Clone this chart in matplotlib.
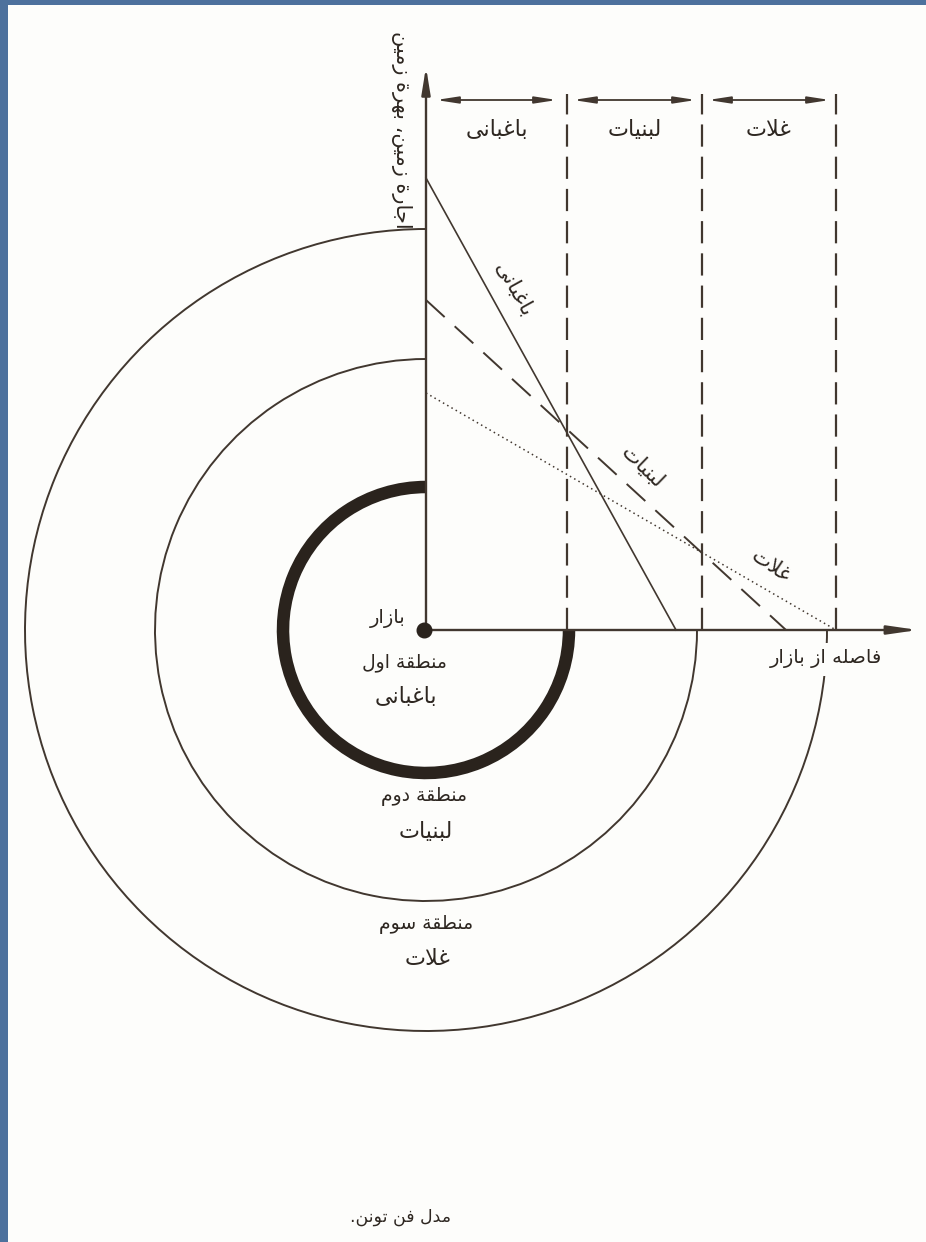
import matplotlib
matplotlib.use('Agg')
import matplotlib.pyplot as plt
from matplotlib.patches import Arc, Rectangle
from matplotlib import font_manager as fm
from matplotlib.ft2font import FT2Font

# ---------------- data ----------------
crops = ['باغبانی', 'لبنیات', 'غلات']          # horticulture, dairy, grain
rent_at_market = [452, 330, 237]                 # land rent at the market (y intercept)
zero_rent_distance = [250, 360, 410]             # distance where rent falls to zero
zone_bounds = [141, 276, 410]                    # outer distance of each zone
ring_radii = [143, 271, 401]                     # rings of the map below
zone_names = ['منطقهٔ اول', 'منطقهٔ دوم', 'منطقهٔ سوم']
market_label = 'بازار'
x_label = 'فاصله از بازار'
y_label = 'اجارهٔ زمین، بهرهٔ زمین'
title = 'مدل فن تونن.'

# ---------------- Persian shaping (matplotlib has no complex text layout) ----------------
FONT = 'DejaVu Sans'
_ft = FT2Font(fm.findfont(FONT))
def has(cp):
    return _ft.get_char_index(cp) != 0

FORMS = {
    'ا': (0xFE8D, 0xFE8E, None, None),
    'ب': (0xFE8F, 0xFE90, 0xFE91, 0xFE92),
    'ت': (0xFE95, 0xFE96, 0xFE97, 0xFE98),
    'ج': (0xFE9D, 0xFE9E, 0xFE9F, 0xFEA0),
    'د': (0xFEA9, 0xFEAA, None, None),
    'ر': (0xFEAD, 0xFEAE, None, None),
    'ز': (0xFEAF, 0xFEB0, None, None),
    'س': (0xFEB1, 0xFEB2, 0xFEB3, 0xFEB4),
    'ص': (0xFEB9, 0xFEBA, 0xFEBB, 0xFEBC),
    'ط': (0xFEC1, 0xFEC2, 0xFEC3, 0xFEC4),
    'غ': (0xFECD, 0xFECE, 0xFECF, 0xFED0),
    'ف': (0xFED1, 0xFED2, 0xFED3, 0xFED4),
    'ق': (0xFED5, 0xFED6, 0xFED7, 0xFED8),
    'ل': (0xFEDD, 0xFEDE, 0xFEDF, 0xFEE0),
    'م': (0xFEE1, 0xFEE2, 0xFEE3, 0xFEE4),
    'ن': (0xFEE5, 0xFEE6, 0xFEE7, 0xFEE8),
    'ه': (0xFEE9, 0xFEEA, 0xFEEB, 0xFEEC),
    'و': (0xFEED, 0xFEEE, None, None),
    'ی': (0xFBFC, 0xFBFD, 0xFBFE, 0xFBFF),
    'ۀ': (0xFBA4, 0xFBA5, None, None),
    'ة': (0xFE93, 0xFE94, None, None),
}
if not all(has(c) for c in FORMS['ی']):
    FORMS['ی'] = (0xFEEF, 0xFEF0, 0xFEF3, 0xFEF4)
HEH_HAMZA = 'ۀ' if all(has(c) for c in FORMS['ۀ']) else 'ة'

def shape(text):
    text = text.replace('ه\u0654', HEH_HAMZA)
    ch = list(text)
    n = len(ch)
    dual = lambda c: c in FORMS and FORMS[c][2] is not None
    out = []
    i = 0
    while i < n:
        c = ch[i]
        if c not in FORMS:
            out.append(c)
            i += 1
            continue
        jp = i > 0 and dual(ch[i - 1])
        if c == 'ل' and i + 1 < n and ch[i + 1] == 'ا':
            out.append(chr(0xFEFC if jp else 0xFEFB))
            i += 2
            continue
        jn = dual(c) and i + 1 < n and ch[i + 1] in FORMS
        iso, fin, ini, med = FORMS[c]
        cp = med if (jp and jn) else fin if jp else ini if jn else iso
        if not has(cp):
            out.append(c)
        else:
            out.append(chr(cp))
        i += 1
    return ''.join(reversed(out))

# ---------------- figure ----------------
W, H = 926, 1242
PAPER = '#fdfdfb'
fig = plt.figure(figsize=(W / 100, H / 100), dpi=100)
fig.patch.set_facecolor('#4d719d')
fig.patches.append(Rectangle((8 / W, 0), 1 - 8 / W, 1 - 5 / H, transform=fig.transFigure,
                             facecolor=PAPER, edgecolor='none', zorder=-10))

ax = fig.add_axes([0, 0, 1, 1])
ax.set_zorder(5)
ax.set_xlim(-426, W - 426)
ax.set_ylim(-(H - 630), 630)
ax.axis('off')
ax.patch.set_alpha(0)

INK = '#41372f'
TXT = '#2e2721'
plt.rcParams['font.family'] = [FONT]

def arrow(x0, y0, x1, y1, style, hl, hw, lw=1.3):
    ax.annotate('', xy=(x1, y1), xytext=(x0, y0),
                arrowprops=dict(arrowstyle=f'{style},head_length={hl},head_width={hw}',
                                color=INK, lw=lw, shrinkA=0, shrinkB=0),
                annotation_clip=False)

# axes of the rent diagram
arrow(0, 0, 0, 563, '-|>', 1.6, 0.26, lw=1.7)
arrow(0, 0, 492, 0, '-|>', 1.8, 0.26, lw=1.7)
ax.plot([-2], [0], 'o', color='#2a231d', markersize=10.5, zorder=5)

# zone boundaries (vertical dashed) and double arrows with zone names
prev = 0
for k, (b, crop) in enumerate(zip(zone_bounds, crops)):
    ln, = ax.plot([b, b], [0, 536], color=INK, lw=1.6)
    ln.set_dashes((10, 4.5))
    g0 = 10 if k == 0 else 6
    arrow(prev + g0, 530, b - (10 if k == 0 else 6), 530, '<|-|>', 1.3, 0.2, lw=1.3)
    ax.text((prev + b) / 2, 500, shape(crop), ha='center', va='center', fontsize=16, color=TXT)
    prev = b

# bid-rent lines
styles = [dict(ls='-', lw=1.2), dict(lw=1.4, dashes=(13, 7)), dict(lw=1.1, ls=(0, (1, 2.2)))]
for r, d, st in zip(rent_at_market, zero_rent_distance, styles):
    ax.plot([0, d], [r, 0], color=INK, **st)

# labels along the lines
line_lab = [(88, 340, -61), (216, 163, -44), (345, 64, -34)]
for crop, (lx, ly, rot) in zip(crops, line_lab):
    ax.text(lx, ly, shape(crop), ha='center', va='center', rotation=rot,
            rotation_mode='anchor', fontsize=15, color=TXT)

# concentric rings (map of zones)
for k, rr in enumerate(ring_radii):
    ax.add_patch(Arc((0, 0), 2 * rr, 2 * rr, theta1=90, theta2=360,
                     color='#2a231d' if k == 0 else INK, lw=9 if k == 0 else 1.4))

# zone labels
zone_pos = [(-22, -32), (-2, -167), (0, -294)]
for name, crop, (zx, zy) in zip(zone_names, crops, zone_pos):
    ax.text(zx, zy, shape(name), ha='center', va='center', fontsize=13.5, color=TXT)
    ax.text(zx + 2, zy - 35, shape(crop), ha='center', va='center', fontsize=16, color=TXT)

ax.text(-38, 12, shape(market_label), ha='center', va='center', fontsize=14, color=TXT)
ax.text(400, -29, shape(x_label), ha='center', va='center', fontsize=14, color=TXT, zorder=6,
        bbox=dict(facecolor=PAPER, edgecolor='none', pad=5))
ax.text(-25, 500, shape(y_label), ha='center', va='center', rotation=-90, fontsize=15, color=TXT)
ax.text(-26, -587, shape(title), ha='center', va='center', fontsize=12.5, color=TXT)

fig.savefig('out.png', dpi=100, facecolor=fig.get_facecolor())
